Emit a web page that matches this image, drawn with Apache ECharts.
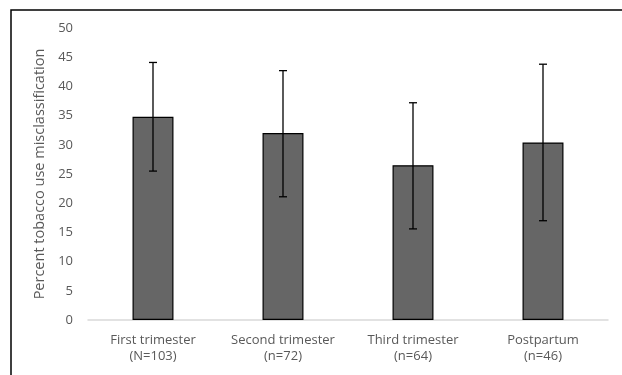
<!DOCTYPE html>
<html><head><meta charset="utf-8">
<script src="https://cdn.jsdelivr.net/npm/echarts@6/dist/echarts.min.js"></script>
<style>html,body{margin:0;padding:0;background:#fff}#c{width:622px;height:375px}</style>
</head><body><div id="c"></div>
<script>
const categories = ['First trimester\n(N=103)', 'Second trimester\n(n=72)', 'Third trimester\n(n=64)', 'Postpartum\n(n=46)'];
const values = [34.8, 32.0, 26.5, 30.4];
const errLow = [25.5, 21.1, 15.6, 17.0];
const errHigh = [44.1, 42.7, 37.2, 43.8];
const yTicks = [0, 5, 10, 15, 20, 25, 30, 35, 40, 45, 50];

const chart = echarts.init(document.getElementById('c'));
const font = 'Open Sans';
chart.setOption({
  animation: false,
  graphic: [{type: 'rect', shape: {x: 11, y: 10, width: 700, height: 500}, style: {fill: 'none', stroke: '#000', lineWidth: 1.5}, silent: true}],
  grid: {left: 88, right: 14, top: 28, bottom: 55},
  xAxis: {
    type: 'category', data: categories,
    axisLine: {lineStyle: {color: '#d9d9d9', width: 1.5}},
    axisTick: {show: false},
    axisLabel: {interval: 0, hideOverlap: false, color: '#595959', fontFamily: font, fontSize: 13, lineHeight: 16, margin: 12}
  },
  yAxis: {
    type: 'value', min: yTicks[0], max: yTicks[yTicks.length - 1], interval: 5,
    name: 'Percent tobacco use misclassification', nameLocation: 'middle', nameGap: 35,
    nameTextStyle: {color: '#595959', fontFamily: font, fontSize: 14.5},
    axisLine: {show: false}, axisTick: {show: false}, splitLine: {show: false},
    axisLabel: {color: '#595959', fontFamily: font, fontSize: 13, margin: 15}
  },
  series: [{
    type: 'bar', data: values, barWidth: '31.5%',
    itemStyle: {color: '#666666', borderColor: '#000', borderWidth: 1.2}
  }, {
    type: 'custom',
    data: values.map((v, i) => [i, errLow[i], errHigh[i]]),
    z: 10,
    renderItem: function (params, api) {
      const lo = api.coord([api.value(0), api.value(1)]);
      const hi = api.coord([api.value(0), api.value(2)]);
      const hw = 4;
      const st = {stroke: '#000', lineWidth: 1.3};
      return {type: 'group', children: [
        {type: 'line', shape: {x1: hi[0], y1: hi[1], x2: lo[0], y2: lo[1]}, style: st},
        {type: 'line', shape: {x1: hi[0] - hw, y1: hi[1], x2: hi[0] + hw, y2: hi[1]}, style: st},
        {type: 'line', shape: {x1: lo[0] - hw, y1: lo[1], x2: lo[0] + hw, y2: lo[1]}, style: st}
      ]};
    }
  }]
});
</script></body></html>
